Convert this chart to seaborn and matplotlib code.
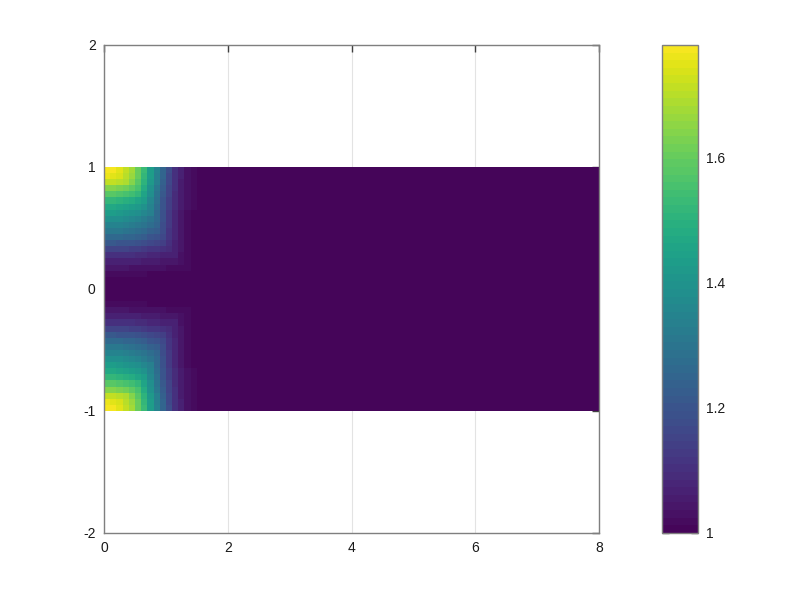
import numpy as np
import matplotlib
matplotlib.use("Agg")
import matplotlib.pyplot as plt
import seaborn as sns
from matplotlib.colors import ListedColormap

# ---- data ----
# grid edges
x_edges = np.round(np.arange(0, 8.0001, 0.1), 4)          # 80 columns over 0..8
y_edges = np.round(np.arange(-1, 1.0001, 0.05), 4)        # 40 rows over -1..1
# relative profile along x (column centres 0.05, 0.15, ...), rest is 0
x_profile = [1.0, 0.99, 0.96, 0.92, 0.86, 0.78, 0.68, 0.56, 0.44, 0.32,
             0.22, 0.14, 0.08, 0.04, 0.02, 0.01]
# relative profile measured from the top/bottom edge (row centres 0.025, 0.075, ...)
edge_profile = [1.0, 0.97, 0.92, 0.82, 0.74, 0.66, 0.60, 0.55, 0.50, 0.45,
                0.40, 0.34, 0.27, 0.20, 0.14, 0.09, 0.05, 0.02, 0.01, 0.0]
base_value = 1.0
peak_value = 1.78
cbar_ticks = [1.0, 1.2, 1.4, 1.6]
x_ticks = [0, 2, 4, 6, 8]
y_ticks = [-2, -1, 0, 1, 2]

# ---- assemble field (rounded L-shaped level sets, as in the reference) ----
ncol = len(x_edges) - 1
px = np.zeros(ncol)
px[:len(x_profile)] = x_profile
qy = np.array(edge_profile + edge_profile[::-1])   # bottom edge -> top edge
Q, P = qy[:, None], px[None, :]
rel = 0.5 * (np.minimum(Q, P) + Q * P)
Z = base_value + (peak_value - base_value) * rel

sns.set_theme(style="white")
plt.rcParams['font.family'] = ['Liberation Sans', 'DejaVu Sans']

fig = plt.figure(figsize=(8, 6), dpi=100)
ax = fig.add_axes([0.13, 0.1117, 0.61875, 0.8133])
cax = fig.add_axes([0.8275, 0.1117, 0.045, 0.8133])

cmap = ListedColormap(sns.color_palette("viridis", 64))
mesh = ax.pcolormesh(x_edges, y_edges, Z, cmap=cmap, vmin=base_value,
                     vmax=peak_value, zorder=2, rasterized=True)
ax.set_xlim(0, 8)
ax.set_ylim(-2, 2)
ax.set_xticks(x_ticks)
ax.set_yticks(y_ticks)
ax.set_xticklabels([str(t) for t in x_ticks])
ax.set_yticklabels([str(t) for t in y_ticks])
ax.grid(True, axis='x', color='#e3e3e3', linewidth=0.8, zorder=0)
ax.set_axisbelow(True)
spine_c = '#7f7f7f'
for s in ax.spines.values():
    s.set_color(spine_c)
    s.set_linewidth(1.0)
    s.set_zorder(5)
ax.tick_params(direction='in', length=5, width=1.0, color='#404040',
               top=True, right=True, labelsize=10, labelcolor='#1a1a1a', pad=6)

cb = fig.colorbar(mesh, cax=cax)
cb.set_ticks(cbar_ticks)
cb.set_ticklabels(['1', '1.2', '1.4', '1.6'])
cb.outline.set_edgecolor(spine_c)
cb.outline.set_linewidth(1.0)
cax.tick_params(direction='in', length=5, width=1.0, color='#404040',
                left=True, right=True, labelsize=10, labelcolor='#1a1a1a', pad=6)

fig.savefig("out.png", dpi=100, facecolor='white')
